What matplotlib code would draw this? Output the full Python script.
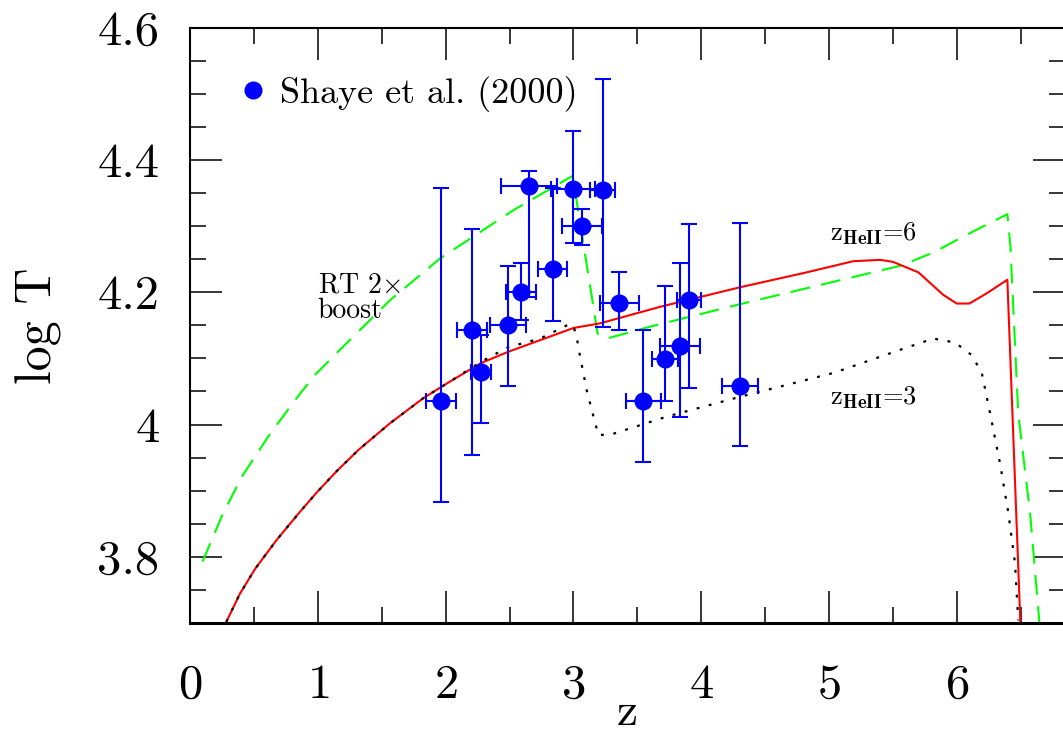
import matplotlib
matplotlib.use("Agg")
import matplotlib.pyplot as plt
from matplotlib.ticker import MultipleLocator, FixedLocator, FixedFormatter

plt.rcParams["font.family"] = ["cmr10", "DejaVu Serif"]
plt.rcParams["mathtext.fontset"] = "cm"
plt.rcParams["axes.formatter.use_mathtext"] = True

obs_z = [1.964, 2.21, 2.277, 2.49, 2.59, 2.655, 2.838, 2.997,
         3.07, 3.229, 3.36, 3.547, 3.717, 3.834, 3.907, 4.304]
obs_t = [4.036, 4.143, 4.080, 4.150, 4.201, 4.360, 4.235, 4.356,
         4.300, 4.354, 4.184, 4.036, 4.099, 4.119, 4.188, 4.059]
obs_zerr = [0.12, 0.117, 0.08, 0.14, 0.12, 0.22, 0.115, 0.17,
            0.156, 0.10, 0.15, 0.137, 0.10, 0.16, 0.094, 0.14]
obs_tlo = [3.883, 3.954, 4.002, 4.058, 4.158, 4.193, 4.156, 4.274,
           4.271, 4.148, 4.143, 3.943, 4.035, 4.011, 4.056, 3.968]
obs_thi = [4.358, 4.295, 4.135, 4.240, 4.244, 4.384, 4.358, 4.444,
           4.326, 4.522, 4.231, 4.143, 4.210, 4.244, 4.303, 4.305]

# model: z_HeII = 6 (solid red)
z6 = [0.285, 0.39, 0.51, 0.68, 0.86, 0.99, 1.15, 1.32, 1.565, 1.826,
      2.034, 2.277, 2.49, 3.0, 3.208, 3.678, 4.304, 4.8, 5.19, 5.40,
      5.5, 5.70, 5.894, 5.999, 6.098, 6.23, 6.395, 6.497]
t6 = [3.702, 3.744, 3.782, 3.826, 3.868, 3.897, 3.930, 3.962, 4.002, 4.040,
      4.065, 4.093, 4.110, 4.146, 4.153, 4.178, 4.2076, 4.229, 4.247, 4.249,
      4.246, 4.230, 4.196, 4.183, 4.183, 4.198, 4.219, 3.700]

# model: z_HeII = 3 (dotted black)
z3 = [0.285, 0.39, 0.51, 0.68, 0.86, 0.99, 1.15, 1.32, 1.565, 1.826,
      2.034, 2.277, 2.49, 2.739, 2.97, 3.0, 3.025, 3.052, 3.104, 3.157,
      3.196, 3.31, 3.73, 4.304, 5.034, 5.556, 5.816, 5.986, 6.116, 6.195,
      6.26, 6.338, 6.403, 6.455, 6.48]
t3 = [3.702, 3.744, 3.782, 3.826, 3.868, 3.897, 3.930, 3.962, 4.002, 4.040,
      4.065, 4.095, 4.117, 4.130, 4.152, 4.149, 4.133, 4.103, 4.052, 4.012,
      3.984, 3.986, 4.012, 4.042, 4.078, 4.113, 4.130, 4.124, 4.105, 4.078,
      4.017, 3.941, 3.866, 3.790, 3.704]

# model: RT 2x boost (dashed green)
zb = [0.099, 0.248, 0.405, 0.613, 0.822, 0.978, 1.147, 1.33, 1.565,
      1.956, 2.53, 2.994, 3.19, 3.26, 3.60, 4.304, 5.556, 5.816, 6.077,
      6.395, 6.419, 6.48, 6.573, 6.646]
tb = [3.793, 3.861, 3.921, 3.982, 4.037, 4.075, 4.108, 4.143, 4.188,
      4.251, 4.324, 4.376, 4.137, 4.130, 4.148, 4.182, 4.240, 4.260, 4.287,
      4.318, 4.269, 4.017, 3.866, 3.700]

yticks = [3.8, 4.0, 4.2, 4.4, 4.6]
ylabels = ["3.8", "4", "4.2", "4.4", "4.6"]

fig = plt.figure(figsize=(10.63, 7.36), dpi=100)
ax = fig.add_axes([0.1787, 0.1535, 0.8233, 0.8089])

ax.plot(zb, tb, color="#00ff00", lw=1.5, dashes=(9.5, 5.5))
ax.plot(z6, t6, color="#ff0000", lw=1.5)
ax.plot(z3, t3, color="black", lw=1.6, dashes=(1.3, 4.3))

yerr = [[t - lo for t, lo in zip(obs_t, obs_tlo)],
        [hi - t for t, hi in zip(obs_t, obs_thi)]]
ax.errorbar(obs_z, obs_t, xerr=obs_zerr, yerr=yerr, fmt="none",
            ecolor="#0000ff", elinewidth=1.5, capsize=6, capthick=1.5)
ax.plot(obs_z, obs_t, "o", color="#0000ff", ms=12, ls="none",
        label="Shaye et al. (2000)")

ax.text(1.0, 4.199, "RT 2$\\times$", fontsize=20)
ax.text(1.0, 4.161, "boost", fontsize=20)
ax.text(5.008, 4.279, r"z$_{\mathbf{HeII}}$=6", fontsize=19)
ax.text(5.008, 4.030, r"z$_{\mathbf{HeII}}$=3", fontsize=19)

ax.legend(loc="center left", bbox_to_anchor=(0.0545, 0.889),
          frameon=False, fontsize=26, handlelength=0.85,
          handletextpad=0.33, borderpad=0, borderaxespad=0)

ax.set_xlim(0, 6.847)
ax.set_ylim(3.7, 4.6)
ax.xaxis.set_major_locator(MultipleLocator(1))
ax.xaxis.set_minor_locator(MultipleLocator(0.5))
ax.yaxis.set_major_locator(FixedLocator(yticks))
ax.yaxis.set_major_formatter(FixedFormatter(ylabels))
ax.yaxis.set_minor_locator(MultipleLocator(0.05))
ax.tick_params(which="both", direction="in", top=True, right=True,
               width=1.1, labelsize=35)
ax.tick_params(which="major", length=23)
ax.tick_params(which="minor", length=11.5)
ax.tick_params(axis="x", which="major", pad=29)
ax.tick_params(axis="y", which="major", pad=22)
for s in ax.spines.values():
    s.set_linewidth(1.5)
ax.spines["bottom"].set_linewidth(2.2)

ax.set_xlabel("z", fontsize=34)
ax.set_ylabel("log T", fontsize=36)
ax.xaxis.set_label_coords(0.5, -0.172)
ax.xaxis.label.set_verticalalignment("baseline")
ax.yaxis.set_label_coords(-0.146, 0.5)

fig.savefig("out.png", dpi=100)
